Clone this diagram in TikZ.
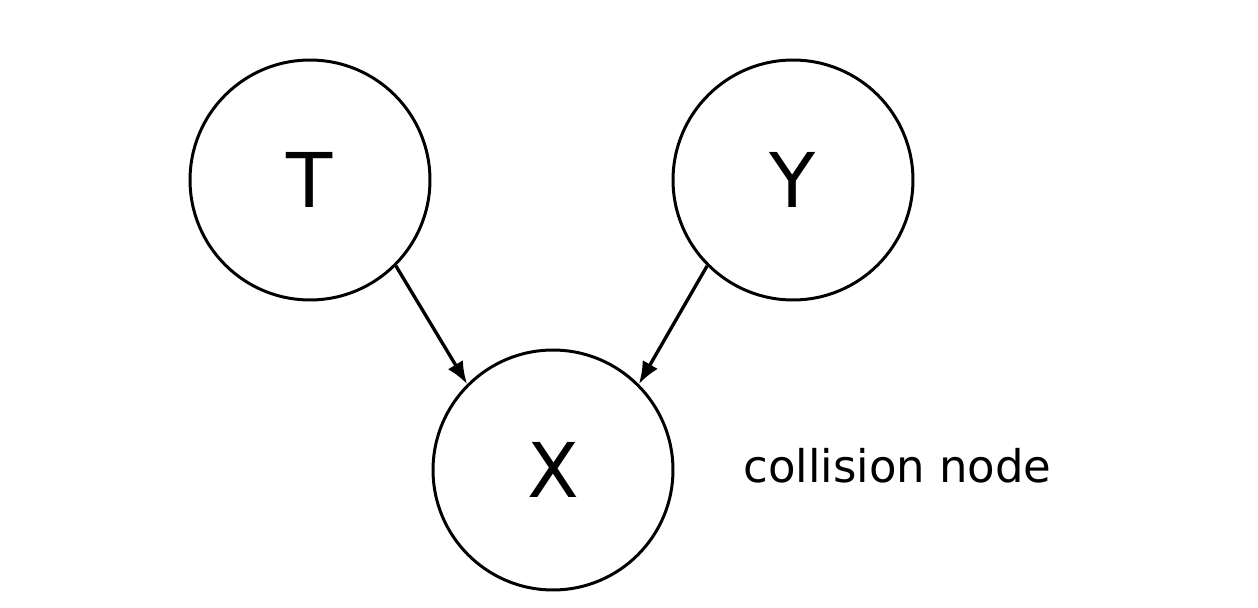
\documentclass[tikz,border=0pt]{standalone}
\usepackage{fontspec}
\setmainfont{DejaVu Sans}
\usetikzlibrary{arrows.meta,positioning}

\begin{document}
\begin{tikzpicture}[
  >={Latex[length=4.5mm,width=3.5mm]}, x=0.02cm, y=-0.02cm,
  V/.style={draw, circle, line width=1.7pt, minimum size=4.8cm, inner sep=0pt,
            font=\fontsize{43}{43}\selectfont},
  E/.style={->, line width=1.9pt}]
\useasboundingbox (0,0) rectangle (1258,608);
\node[V] (t) at (310,180) {T};
\node[V] (y) at (793,180) {Y};
\node[V] (x) at (553,470) {X};
\node[anchor=base west, inner sep=0pt, font=\fontsize{25.6}{26}\selectfont] (lbl) at (743,482) {collision node};
\draw[E] (t.south east) -- (x.north west);
\draw[E] (y.south west) -- (x.north east);
\end{tikzpicture}
\end{document}
